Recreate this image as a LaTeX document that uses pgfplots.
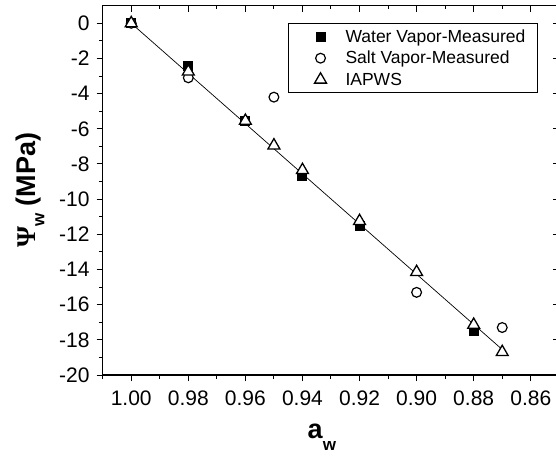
\documentclass[border=0pt]{standalone}
\usepackage{pgfplots}
\pgfplotsset{compat=1.18}
\usepackage{fontspec}
\setmainfont{Liberation Sans}
\newfontfamily\psifont{Liberation Serif}

\begin{document}
\begin{tikzpicture}
\pgfplotsset{
  frameaxis/.style={
    scale only axis, width=456.6pt, height=369.3pt,
    xmin=0.85, xmax=1.01, ymin=-20, ymax=1, x dir=reverse,
    xtick={0.86,0.88,0.90,0.92,0.94,0.96,0.98,1.00},
    minor xtick={0.85,0.87,0.89,0.91,0.93,0.95,0.97,0.99,1.01},
    ytick={-20,-18,-16,-14,-12,-10,-8,-6,-4,-2,0},
    minor ytick={-19,-17,-15,-13,-11,-9,-7,-5,-3,-1},
    major tick length=6pt, minor tick length=3.5pt,
    every tick/.style={black, line width=1pt},
    axis line style={black, line width=1.3pt},
    clip=false,
  }
}
% frame with outward ticks and labels on the left and bottom
\begin{axis}[frameaxis, name=main,
  xtick pos=left, ytick pos=left, tick align=outside,
  xticklabels={0.86,0.88,0.90,0.92,0.94,0.96,0.98,1.00},
  yticklabels={-20,-18,-16,-14,-12,-10,-8,-6,-4,-2,0},
  tick label style={font=\fontsize{21}{25}\selectfont},
  xticklabel style={inner sep=2pt, yshift=-8pt},
  yticklabel style={inner sep=3pt, xshift=-4pt},
  xlabel={\fontsize{27}{30}\selectfont\bfseries a\raisebox{-12pt}{\fontsize{17}{17}\selectfont w}},
  xlabel style={at={(axis description cs:0.48,0)}, anchor=center, yshift=-62pt},
  ylabel={\fontsize{27}{30}\selectfont\bfseries{\psifont\bfseries Ψ}\raisebox{-9pt}{\fontsize{17}{17}\selectfont w} (MPa)},
  ylabel style={at={(axis description cs:0,0.5)}, anchor=center, yshift=72.7pt},
  legend style={at={(0.9534,0.9532)}, anchor=north east, draw=black, line width=1.1pt,
    font=\fontsize{17.5}{21}\selectfont, inner xsep=0pt, inner ysep=2.4pt,
    nodes={inner sep=0pt}, row sep=0pt, column sep=0pt, cells={anchor=west}},
  legend image code/.code={\path[draw=none, fill=none] (0pt,-10.75pt) rectangle (57pt,10.75pt);
    \draw[#1] plot coordinates {(32pt,0pt)};},
]
% water vapor, measured
\addplot[only marks, mark=square*, mark size=4.5pt, mark options={black, fill=black, line width=1pt}]
  coordinates {(1.00,0) (0.98,-2.45) (0.96,-5.55) (0.94,-8.7) (0.92,-11.5) (0.88,-17.5)};
\addlegendentry{Water Vapor-Measured\hspace*{12pt}}
% salt vapor, measured
\addplot[only marks, mark=*, mark size=4.9pt, mark options={draw=black, fill=white, line width=1.2pt}]
  coordinates {(1.00,0) (0.98,-3.1) (0.95,-4.2) (0.90,-15.3) (0.87,-17.3)};
\addlegendentry{Salt Vapor-Measured}
% IAPWS
\addplot[only marks, mark=triangle*, mark size=6.9pt, mark options={draw=black, fill=white, line width=1.3pt}]
  coordinates {(1.00,0) (0.98,-2.75) (0.96,-5.55) (0.95,-6.95) (0.94,-8.35) (0.92,-11.25) (0.90,-14.15) (0.88,-17.15) (0.87,-18.7)};
\addlegendentry{IAPWS}
% linear fit
\addplot[black, line width=0.7pt, forget plot] coordinates {(1.00,0) (0.87,-18.55)};
\end{axis}
% mirrored frame with inward ticks on the top and right
\begin{axis}[frameaxis,
  xtick pos=right, ytick pos=right, tick align=inside,
  xticklabels={}, yticklabels={},
]
\end{axis}
\pgfresetboundingbox
\path[use as bounding box] (main.south west) ++(-102.7pt,-80pt) rectangle ++(556pt,455pt);
\end{tikzpicture}
\end{document}
